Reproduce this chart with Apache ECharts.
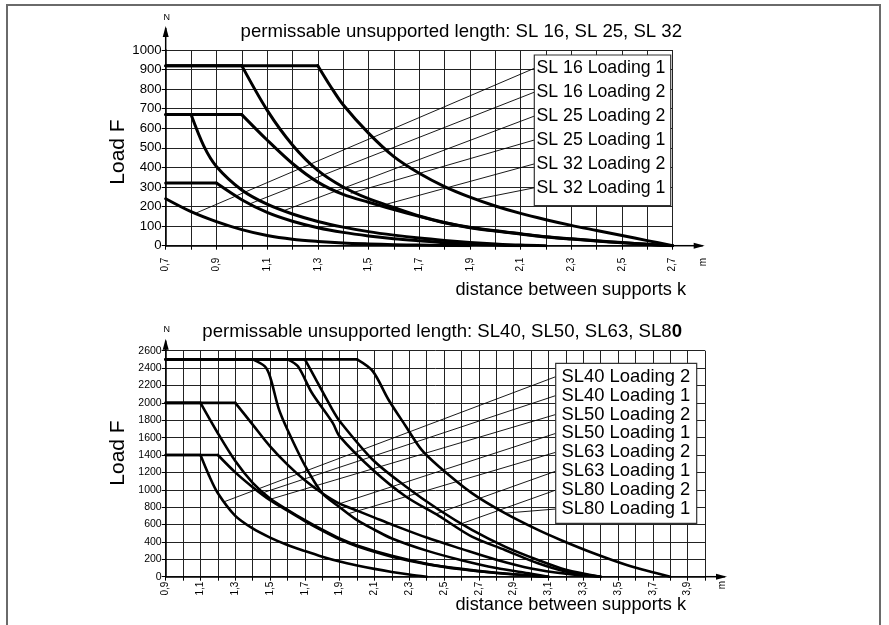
<!DOCTYPE html>
<html><head><meta charset="utf-8">
<script src="https://cdn.jsdelivr.net/npm/echarts@6/dist/echarts.min.js"></script>
<style>html,body{margin:0;padding:0;background:#fff}#c{width:889px;height:625px}</style>
</head><body><div id="c"></div>
<script>
// ---------- DATA ----------
const topTitle = 'permissable unsupported length: SL 16, SL 25, SL 32';
const topLegend = ['SL 16 Loading 1','SL 16 Loading 2','SL 25 Loading 2','SL 25 Loading 1','SL 32 Loading 2','SL 32 Loading 1'];
const topYTicks = [0, 1000, 100];   // min, max, step
const topXTicks = [0.7, 2.7, 0.1];
// [k in m, F in N]
const sl16L1 = [[0.7,240],[0.8,174],[0.9,123],[1.0,82],[1.1,52],[1.2,33],[1.3,22],[1.4,14],[1.5,9],[1.6,5],[1.7,3],[1.8,1],[1.9,0]];
const sl16L2 = [[0.7,320],[0.9,320],[1.0,235],[1.1,170],[1.2,125],[1.3,92],[1.4,68],[1.5,50],[1.6,36],[1.7,25],[1.8,15],[1.9,8],[2.0,3],[2.1,0]];
const sl25L2 = [[0.7,670],[0.8,670],[0.85,510],[0.9,405],[1.0,285],[1.1,212],[1.2,162],[1.3,124],[1.4,95],[1.5,72],[1.6,54],[1.7,39],[1.8,27],[1.9,17],[2.0,9],[2.1,3],[2.2,0]];
const sl25L1 = [[0.7,670],[1.0,670],[1.1,540],[1.2,420],[1.3,325],[1.4,262],[1.5,222],[1.6,185],[1.7,150],[1.8,117],[1.9,92],[2.0,75],[2.1,60],[2.2,45],[2.3,34],[2.4,24],[2.5,15],[2.6,7],[2.7,0]];
const sl32L2 = [[0.7,920],[1.0,920],[1.1,693],[1.2,515],[1.3,385],[1.4,300],[1.5,240],[1.6,195],[1.7,152],[1.8,119],[1.9,94],[2.0,76],[2.1,61],[2.2,46],[2.3,35],[2.4,25],[2.5,16],[2.6,7],[2.7,0]];
const sl32L1 = [[0.7,920],[1.3,920],[1.35,815],[1.4,720],[1.5,575],[1.6,455],[1.7,370],[1.8,302],[1.9,248],[2.0,203],[2.1,165],[2.2,133],[2.3,104],[2.4,78],[2.5,52],[2.6,26],[2.7,0]];
const topCurves = [sl16L1, sl16L2, sl25L2, sl25L1, sl32L2, sl32L1];
// leader line start points [k, F] for each legend row
const topLeaders = [[0.82,167],[1.03,213],[1.17,181],[1.43,268],[1.56,208],[1.93,238]];

const botTitle = 'permissable unsupported length: SL40, SL50, SL63, SL8';
const botTitleBold = '0';
const botLegend = ['SL40 Loading 2','SL40 Loading 1','SL50 Loading 2','SL50 Loading 1','SL63 Loading 2','SL63 Loading 1','SL80 Loading 2','SL80 Loading 1'];
const botYTicks = [0, 2600, 200];
const botXTicks = [0.9, 4.0, 0.1];
const sl40L2 = [[0.9,1400],[1.1,1400],[1.15,1160],[1.2,960],[1.3,700],[1.4,555],[1.5,450],[1.6,365],[1.7,295],[1.8,230],[1.9,175],[2.0,130],[2.1,90],[2.2,55],[2.3,25],[2.4,0]];
const sl40L1 = [[0.9,1400],[1.2,1400],[1.3,1200],[1.4,1030],[1.5,880],[1.6,760],[1.7,640],[1.8,530],[1.9,430],[2.0,350],[2.2,230],[2.4,145],[2.6,85],[2.8,42],[3.0,12],[3.1,0]];
const sl50L2 = [[0.9,2000],[1.1,2000],[1.2,1650],[1.3,1330],[1.4,1080],[1.5,900],[1.6,770],[1.7,650],[1.8,540],[1.9,440],[2.0,360],[2.2,240],[2.4,150],[2.6,90],[2.8,45],[3.0,12],[3.1,0]];
const sl50L1 = [[0.9,2000],[1.3,2000],[1.4,1750],[1.5,1500],[1.6,1290],[1.7,1110],[1.8,960],[1.9,840],[2.0,760],[2.1,680],[2.2,600],[2.4,450],[2.6,320],[2.8,195],[3.0,95],[3.2,35],[3.4,0]];
const sl63L2 = [[0.9,2500],[1.4,2500],[1.47,2420],[1.5,2300],[1.55,1930],[1.6,1690],[1.7,1280],[1.8,960],[1.9,800],[2.0,650],[2.1,540],[2.2,440],[2.4,300],[2.6,190],[2.8,100],[3.0,35],[3.1,0]];
const sl63L1 = [[0.9,2500],[1.6,2500],[1.66,2420],[1.74,2116],[1.86,1770],[1.9,1615],[2.09,1231],[2.28,923],[2.47,700],[2.66,461],[2.85,308],[3.04,154],[3.2,60],[3.4,0]];
const sl80L2 = [[0.9,2500],[1.7,2500],[1.763,2270],[1.858,1923],[1.9,1790],[2.09,1346],[2.28,1038],[2.47,770],[2.66,538],[2.85,346],[3.04,192],[3.2,80],[3.4,0]];
const sl80L1 = [[0.9,2500],[2.0,2500],[2.09,2365],[2.18,2039],[2.28,1731],[2.37,1462],[2.47,1269],[2.66,962],[2.85,731],[3.04,538],[3.17,423],[3.36,270],[3.55,135],[3.7,50],[3.8,0]];
const botCurves = [sl40L2, sl40L1, sl50L2, sl50L1, sl63L2, sl63L1, sl80L2, sl80L1];
const botLeaders = [[1.24,865],[1.45,960],[1.5,890],[1.9,840],[1.95,725],[2.45,720],[2.6,610],[2.85,731]];

// ---------- CHART ----------
const FONT = '"Liberation Sans", Arial, sans-serif';
const chart = echarts.init(document.getElementById('c'));
const fmt = v => { const t = Math.round(v * 10); return (t % 2 === 1) ? v.toFixed(1).replace('.', ',') : ''; };

function xAx(g, t, margin) {
  return { type:'value', gridIndex:g, min:t[0], max:t[1], interval:t[2],
    axisLine:{ onZero:false, lineStyle:{ color:'#000', width:1.5 } },
    axisTick:{ length:4, lineStyle:{ color:'#000' } },
    axisLabel:{ rotate:90, fontSize:10, fontFamily:FONT, color:'#000', margin:margin, formatter:fmt, showMaxLabel:true, showMinLabel:true },
    splitLine:{ show:true, lineStyle:{ color:'#222', width:1 } } };
}
function yAx(g, t, fs) {
  return { type:'value', gridIndex:g, min:t[0], max:t[1], interval:t[2],
    axisLine:{ show:true, lineStyle:{ color:'#000', width:1.5 } },
    axisTick:{ show:true, length:4, lineStyle:{ color:'#000' } },
    axisLabel:{ fontSize:fs, fontFamily:FONT, color:'#000', margin:4, formatter: v => String(v) },
    splitLine:{ show:true, lineStyle:{ color:'#222', width:1 } } };
}
// each curve: straight plateau part + smooth decaying part (split at the end of the plateau)
const series = [];
function addCurve(d, g, w, name) {
  let c = 0;
  while (c + 1 < d.length && d[c + 1][1] === d[0][1]) c++;
  const base = { type:'line', xAxisIndex:g, yAxisIndex:g, symbol:'none', lineStyle:{ color:'#000', width:w, cap:'round', join:'round' }, z:5, name:name, silent:true };
  if (c > 0) series.push(Object.assign({}, base, { data:d.slice(0, c + 1), smooth:false }));
  series.push(Object.assign({}, base, { data:d.slice(c), smooth:0.3 }));
}
topCurves.forEach((d, i) => addCurve(d, 0, 3, topLegend[i]));
botCurves.forEach((d, i) => addCurve(d, 1, 2.6, botLegend[i]));

chart.setOption({
  animation:false,
  backgroundColor:'#fff',
  grid:[ { left:165.7, top:50, width:507, height:195.7 },
         { left:165.7, top:350.7, width:539.3, height:226 } ],
  xAxis:[ xAx(0, topXTicks, 12), xAx(1, botXTicks, 5) ],
  yAxis:[ yAx(0, topYTicks, 13.2), yAx(1, botYTicks, 10.5) ],
  series: series
});

// ---------- ANNOTATIONS ----------
const P = (g, p) => chart.convertToPixel({ gridIndex:g }, p);
const gr = [];
gr.push({ type:'rect', shape:{ x:7, y:5, width:873, height:660 }, style:{ fill:'none', stroke:'#6a6a6a', lineWidth:2 }, z:1 });
function arrows(g, xmin, xmax, ymax, xExt, yExt, mPos, nPos) {
  const xr = P(g, [xmax, 0]); const x0 = P(g, [xmin, 0]); const yt = P(g, [xmin, ymax]);
  gr.push({ type:'line', shape:{ x1:xr[0], y1:xr[1], x2:xr[0] + xExt, y2:xr[1] }, style:{ stroke:'#000', lineWidth:1.5 }, z:10 });
  gr.push({ type:'polygon', shape:{ points:[[xr[0]+xExt+2, xr[1]], [xr[0]+xExt-9, xr[1]-3], [xr[0]+xExt-9, xr[1]+3]] }, style:{ fill:'#000' }, z:10 });
  gr.push({ type:'line', shape:{ x1:x0[0], y1:yt[1], x2:x0[0], y2:yt[1] - yExt }, style:{ stroke:'#000', lineWidth:1.5 }, z:10 });
  gr.push({ type:'polygon', shape:{ points:[[x0[0], yt[1]-yExt-2], [x0[0]-3, yt[1]-yExt+9], [x0[0]+3, yt[1]-yExt+9]] }, style:{ fill:'#000' }, z:10 });
  gr.push({ type:'text', x:x0[0]+1, y:nPos, style:{ text:'N', font:'9px ' + FONT, fill:'#000', textAlign:'center', textVerticalAlign:'middle' }, z:10 });
  gr.push({ type:'text', x:mPos[0], y:mPos[1], rotation:Math.PI/2, style:{ text:'m', font:'10px ' + FONT, fill:'#000', textAlign:'center', textVerticalAlign:'middle' }, z:10 });
}
arrows(0, topXTicks[0], topXTicks[1], topYTicks[1], 30, 22, [703, 262], 18);
arrows(1, botXTicks[0], botXTicks[1], botYTicks[1], 20, 10, [722, 585], 330);

gr.push({ type:'text', x:682, y:31.5, style:{ text:topTitle, font:'18.6px ' + FONT, fill:'#000', textAlign:'right', textVerticalAlign:'middle' }, z:10 });
gr.push({ type:'text', x:682, y:331.5, style:{ text:'{n|' + botTitle + '}{b|' + botTitleBold + '}', rich:{ n:{ font:'18.6px ' + FONT, fill:'#000' }, b:{ font:'bold 18.6px ' + FONT, fill:'#000' } }, textAlign:'right', textVerticalAlign:'middle' }, z:10 });
gr.push({ type:'text', x:686, y:290, style:{ text:'distance between supports k', font:'18.2px ' + FONT, fill:'#000', textAlign:'right', textVerticalAlign:'middle' }, z:10 });
gr.push({ type:'text', x:686, y:605, style:{ text:'distance between supports k', font:'18.2px ' + FONT, fill:'#000', textAlign:'right', textVerticalAlign:'middle' }, z:10 });
gr.push({ type:'text', x:118, y:152, rotation:Math.PI/2, style:{ text:'Load F', font:'21px ' + FONT, fill:'#000', textAlign:'center', textVerticalAlign:'middle' }, z:10 });
gr.push({ type:'text', x:118, y:453, rotation:Math.PI/2, style:{ text:'Load F', font:'21px ' + FONT, fill:'#000', textAlign:'center', textVerticalAlign:'middle' }, z:10 });

function legendBox(g, box, labels, leaders, textX, rowY, step, fs) {
  gr.push({ type:'rect', shape:{ x:box[0], y:box[1], width:box[2]-box[0], height:box[3]-box[1] }, style:{ fill:'#fff', stroke:'#333', lineWidth:1.2 }, z:12 });
  labels.forEach((t, i) => {
    const y = rowY + i * step;
    gr.push({ type:'text', x:textX, y:y, style:{ text:t, font:fs + 'px ' + FONT, fill:'#000', textAlign:'left', textVerticalAlign:'middle' }, z:13 });
    const s = P(g, leaders[i]);
    gr.push({ type:'line', shape:{ x1:s[0], y1:s[1], x2:box[0], y2:y }, style:{ stroke:'#000', lineWidth:0.9 }, z:11 });
  });
}
legendBox(0, [534.3, 55, 670.7, 205.7], topLegend, topLeaders, 536.5, 68.3, 23.9, 17.7);
legendBox(1, [555.7, 363.3, 696.7, 523.3], botLegend, botLeaders, 561.5, 376.7, 18.9, 18.4);

chart.setOption({ graphic: gr });
</script>
</body></html>
